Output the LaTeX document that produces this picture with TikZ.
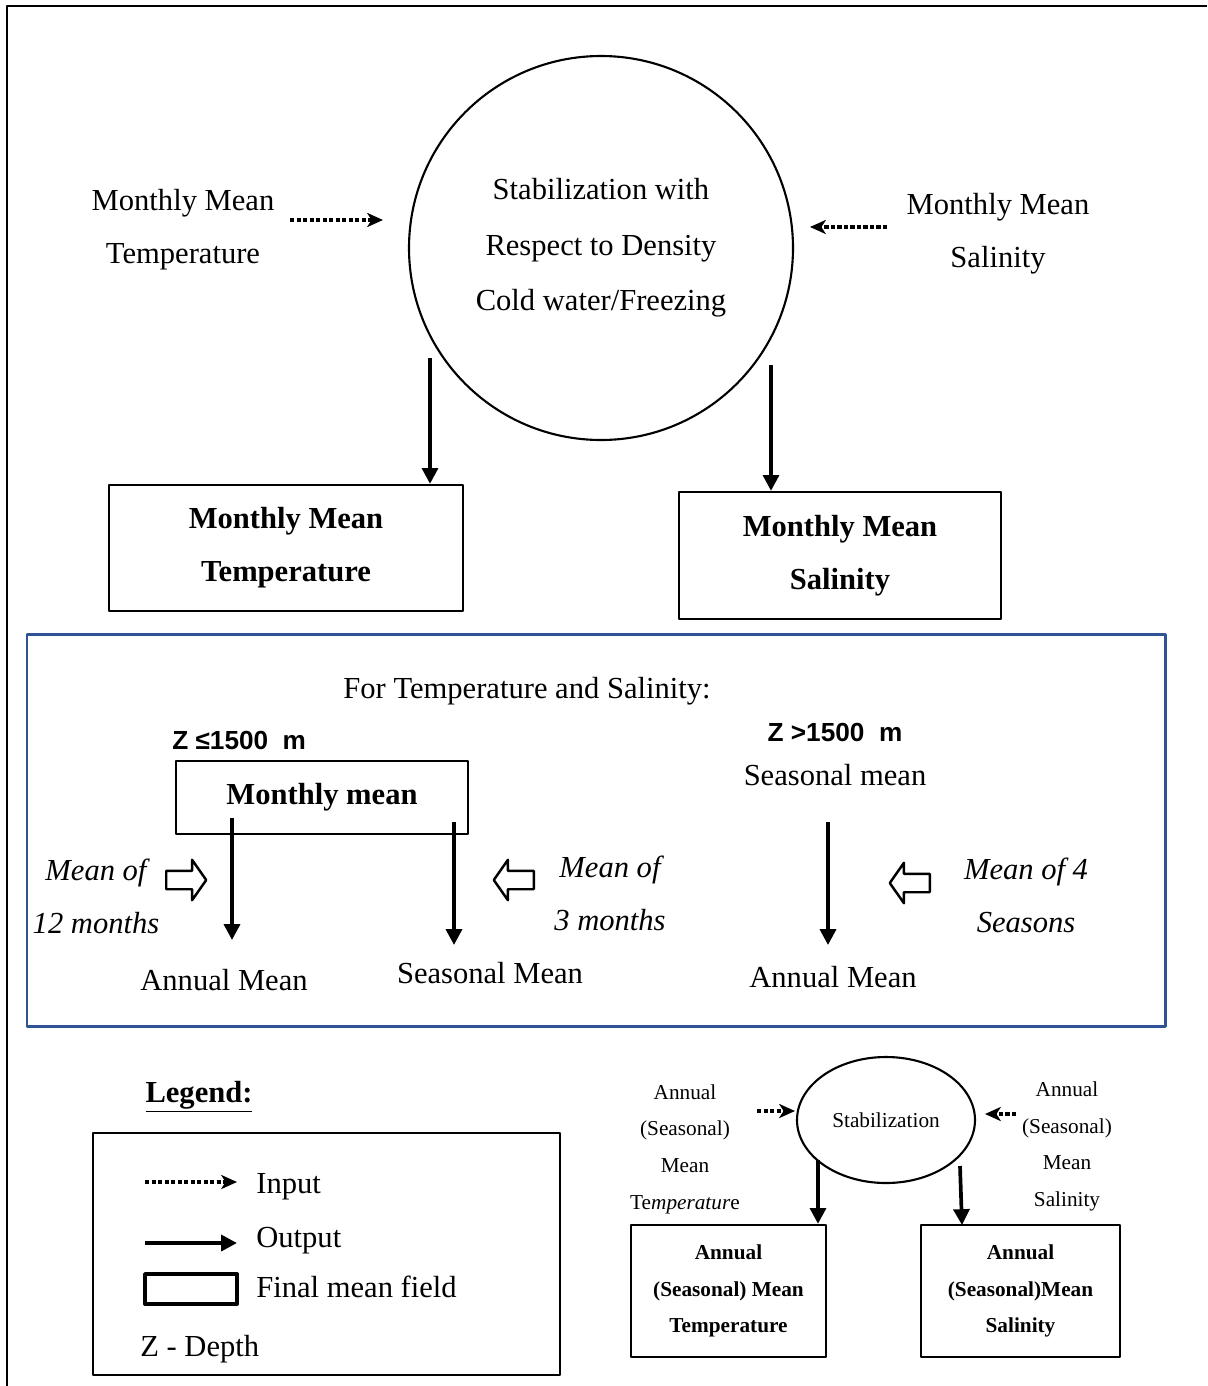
\documentclass[tikz,border=0pt]{standalone}
\usepackage{fontspec}
\setmainfont{Liberation Serif}
\newfontfamily\zfont{Liberation Sans}
\usepackage{tikz}
\usetikzlibrary{
  arrows.meta,      % Stealth / Triangle 箭头
  shapes.geometric, % 椭圆节点
  shapes.arrows,    % 空心粗箭头
  calc              % 坐标计算
}
\definecolor{frameblue}{RGB}{47,84,150}
\tikzset{
  big text/.style={
    font=\fontsize{17.4}{30.2}\selectfont,
    align=center,
    inner sep=0pt
  },
  note text/.style={
    font=\itshape\fontsize{17.4}{30.2}\selectfont,
    align=center,
    inner sep=0pt
  },
  small text/.style={
    font=\fontsize{12.1}{20.9}\selectfont,
    align=center,
    inner sep=0pt
  },
  depth text/.style={
    font=\zfont\bfseries\fontsize{14.9}{18}\selectfont,
    inner sep=0pt
  },
  in arrow/.style={
    -{Stealth[length=9pt,width=8pt,inset=2.5pt]},
    line width=2pt,
    dash pattern=on 2.3pt off 1.4pt
  },
  out arrow/.style={
    -{Triangle[length=9pt,width=9pt]},
    line width=2.1pt
  },
  mean box/.style={
    draw,
    line width=1.3pt,
    align=center,
    inner sep=0pt,
    font=\bfseries\fontsize{17.4}{30.2}\selectfont
  },
  small box/.style={
    draw,
    line width=1.3pt,
    align=center,
    inner sep=0pt,
    font=\bfseries\fontsize{12.1}{20.9}\selectfont
  },
  hollow arrow/.style={
    single arrow,
    draw,
    line width=1.4pt,
    inner xsep=0pt,
    inner ysep=0.16cm,
    minimum height=0.8cm,
    single arrow head extend=0.22cm,
    single arrow tip angle=110
  }
}

\begin{document}
\begin{tikzpicture}[x=0.02cm, y=-0.02cm, line join=round]
  % 1 个单位 = 参考图中 1 个像素
  \def\u{0.02cm}
  \useasboundingbox (0,0) rectangle (1207,1386);

  % 外框（只露出上边与左边）
  \draw[line width=1.5pt] (7,1386) -- (7,6) -- (1207,6);

  % ===================================
  % 顶部：按密度稳定化
  % ===================================
  \node[circle, draw, line width=1.2pt, minimum size=384*\u, big text,
        font=\fontsize{17.4}{31.6}\selectfont] (stab) at (601,248)
    {Stabilization with\\Respect to Density\\Cold water/Freezing};

  % 左右两侧输入
  \node[big text] (inTemp) at (183,230) {Monthly Mean\\Temperature};
  \node[big text] (inSal) at (998,234) {Monthly Mean\\Salinity};
  \coordinate (inTemp1) at (290,220);
  \coordinate (inTemp2) at (383,220);
  \coordinate (inSal1) at (887,227);
  \coordinate (inSal2) at (810,227);
  \draw[in arrow] (inTemp1) -- (inTemp2);
  \draw[in arrow] (inSal1) -- (inSal2);

  % 输出的月平均场
  \node[mean box, minimum width=354*\u, minimum height=126*\u] (boxTemp) at (286,548)
    {Monthly Mean\\Temperature};
  \node[mean box, minimum width=322*\u, minimum height=127*\u] (boxSal) at (840,555.5)
    {Monthly Mean\\Salinity};
  \coordinate (outTemp) at (430,358);
  \coordinate (outSal) at (771,365);
  \draw[out arrow] (outTemp) -- (outTemp |- boxTemp.north);
  \draw[out arrow] (outSal) -- (outSal |- boxSal.north);

  % ===================================
  % 中部蓝框：温度与盐度的平均方式
  % ===================================
  \draw[line width=1.7pt, frameblue] (27,634) rectangle (1165,1026);
  \node[big text] (title) at (527,691) {For Temperature and Salinity:};

  % Z <= 1500 m 部分
  \node[depth text, anchor=west] (zLow) at (172,740) {Z ≤1500~~m};
  \node[mean box, line width=1pt, minimum width=292*\u, minimum height=73*\u] (monthly) at (322,797.5)
    {Monthly mean};
  \coordinate (mLeft) at (232,818);
  \coordinate (mLeftEnd) at (232,940);
  \coordinate (mRight) at (454,822);
  \coordinate (mRightEnd) at (454,945);
  \draw[out arrow] (mLeft) -- (mLeftEnd);
  \draw[out arrow] (mRight) -- (mRightEnd);
  \node[hollow arrow] (arr12) at (183,880) {};
  \node[hollow arrow, shape border rotate=180] (arr3) at (517,880) {};
  \node[note text] (mean12) at (96,896) {Mean of\\12 months};
  \node[note text] (mean3) at (610,893) {Mean of\\3 months};
  \node[big text] (annual1) at (224,980) {Annual Mean};
  \node[big text] (seasonal1) at (490,973) {Seasonal Mean};

  % Z > 1500 m 部分
  \node[depth text] (zHigh) at (835,732) {Z >1500~~m};
  \node[big text] (seasonal2) at (835,775) {Seasonal mean};
  \coordinate (sTop) at (828,822);
  \coordinate (sEnd) at (828,945);
  \draw[out arrow] (sTop) -- (sEnd);
  \node[hollow arrow, shape border rotate=180] (arr4) at (913,883) {};
  \node[note text] (mean4) at (1026,895) {Mean of 4\\Seasons};
  \node[big text] (annual2) at (833,977) {Annual Mean};

  % ===================================
  % 图例
  % ===================================
  \node[big text, font=\bfseries\fontsize{17.4}{30.2}\selectfont] (legend) at (199,1097)
    {\underline{Legend:}};
  \node[draw, line width=1pt, minimum width=467*\u, minimum height=242*\u] (legendBox) at (326.5,1254) {};
  \coordinate (legIn1) at (145,1182);
  \coordinate (legIn2) at (237,1182);
  \coordinate (legOut1) at (145,1243);
  \coordinate (legOut2) at (237,1243);
  \draw[in arrow] (legIn1) -- (legIn2);
  \draw[out arrow] (legOut1) -- (legOut2);
  \node[draw, line width=2.2pt, minimum width=92*\u, minimum height=30*\u] (legRect) at (191,1289) {};
  \node[big text, anchor=west] (legInput) at (256,1187) {Input};
  \node[big text, anchor=west] (legOutput) at (256,1241) {Output};
  \node[big text, anchor=west] (legFinal) at (256,1287) {Final mean field};
  \node[big text, anchor=west] (legDepth) at (140,1349) {Z - Depth};

  % ===================================
  % 右下：年（季）平均场的稳定化
  % ===================================
  \node[ellipse, draw, line width=1.2pt, minimum width=178*\u, minimum height=126*\u, small text]
    (stab2) at (886,1120) {Stabilization};
  \node[small text] (inTemp3) at (685,1149) {Annual\\(Seasonal)\\Mean\\Te\textit{mperatur}e};
  \node[small text] (inSal3) at (1067,1146.5) {Annual\\(Seasonal)\\Mean\\Salinity};
  \coordinate (inTemp31) at (757,1111);
  \coordinate (inTemp32) at (795,1111);
  \coordinate (inSal31) at (1016,1114);
  \coordinate (inSal32) at (985,1114);
  \draw[in arrow] (inTemp31) -- (inTemp32);
  \draw[in arrow] (inSal31) -- (inSal32);

  \node[small box, minimum width=195*\u, minimum height=132*\u] (boxAnnTemp) at (728.5,1291)
    {Annual\\(Seasonal) Mean\\Temperature};
  \node[small box, minimum width=199*\u, minimum height=132*\u] (boxAnnSal) at (1020.5,1291)
    {Annual\\(Seasonal)Mean\\Salinity};
  \coordinate (outTemp3) at (818,1160);
  \coordinate (outSal3) at (960,1166);
  \coordinate (outSal3End) at (962,1225);
  \draw[out arrow] (outTemp3) -- (outTemp3 |- boxAnnTemp.north);
  \draw[out arrow] (outSal3) -- (outSal3End);
\end{tikzpicture}
\end{document}
